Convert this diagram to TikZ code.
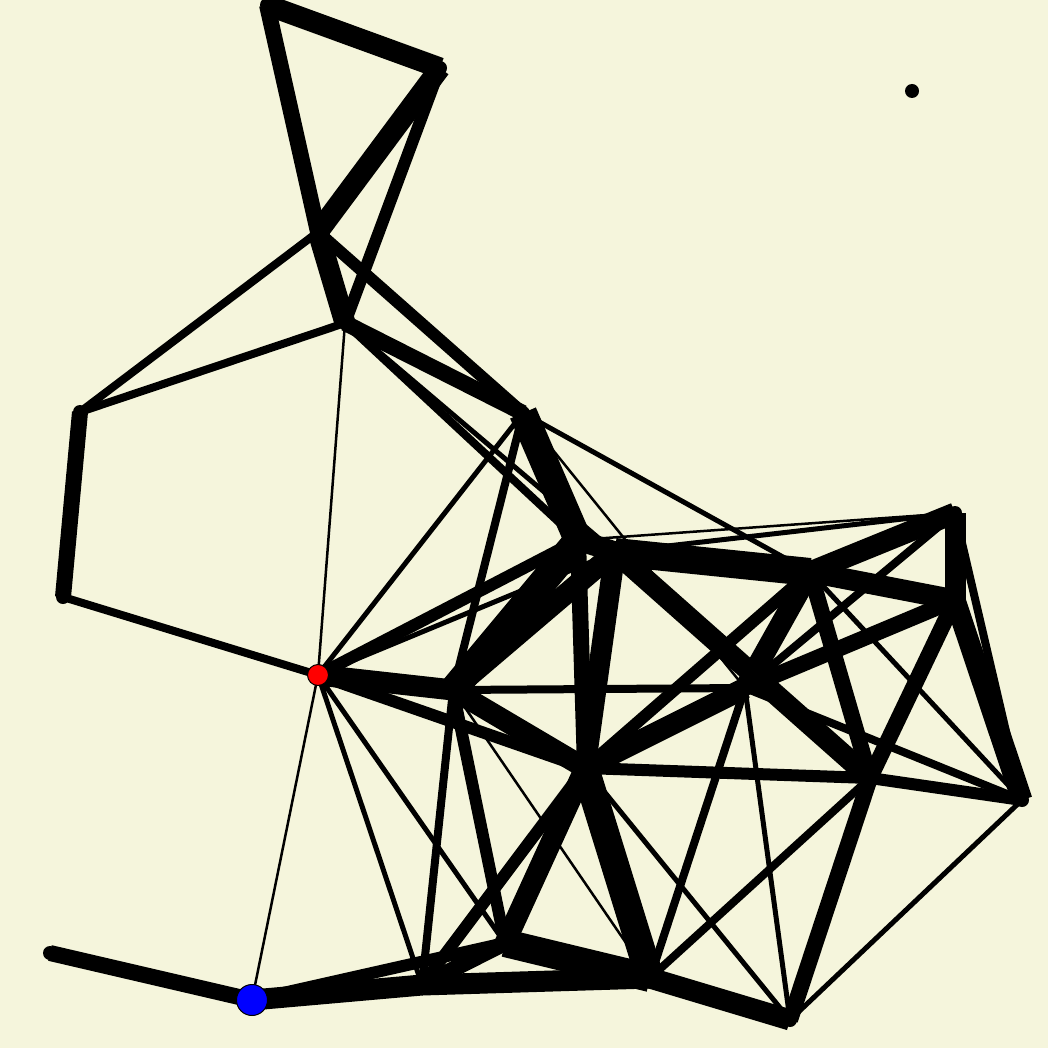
\documentclass[tikz,border=0pt]{standalone}
\usepackage{tikz}
\usetikzlibrary{positioning}
\definecolor{paper}{RGB}{245,245,220}
\pgfdeclarelayer{paperlayer}
\pgfdeclarelayer{edgelayer}
\pgfsetlayers{paperlayer,edgelayer,main}
\tikzset{
    vtx/.style={circle, fill=black, inner sep=0pt, minimum size=14pt},
    vtx_red/.style={circle, draw=black, fill=red, line width=1pt, inner sep=0pt, minimum size=21pt},
    vtx_blue/.style={circle, draw=black, fill=blue, line width=1pt, inner sep=0pt, minimum size=31pt},
    e_hair/.style={draw=black, line width=2.5pt},
    e_thin/.style={draw=black, line width=5pt},
    e_light/.style={draw=black, line width=8pt},
    e_mid/.style={draw=black, line width=12pt},
    e_bold/.style={draw=black, line width=16pt},
    e_heavy/.style={draw=black, line width=21pt},
    e_huge/.style={draw=black, line width=28pt}
}
\begin{document}
\begin{tikzpicture}[x=1pt, y=-1pt]
    \begin{pgfonlayer}{paperlayer}
        \fill[paper] (0,0) rectangle (1048,1048);
    \end{pgfonlayer}
    \useasboundingbox (0,0) rectangle (1048,1048);

    % Upper part
    \node[vtx] (a) at (267, 5) {};
    \node[vtx] (b) at (440, 68) {};
    \node[vtx] (c) at (318, 232) {};
    \node[vtx] (d) at (345, 323) {};
    \node[vtx] (e) at (80, 412) {};
    \node[vtx] (f) at (63, 597) {};
    \node[vtx] (g) at (523, 413) {};
    \node[vtx] (lone) at (912, 91) {};

    % Middle part
    \node[vtx_red] (hub) at (318, 675) {};
    \node[vtx] (h) at (578, 540) {};
    \node[vtx] (h2) at (615, 552) {};
    \node[vtx] (i) at (955, 513) {};
    \node[vtx] (j) at (810, 572) {};
    \node[vtx] (k) at (955, 600) {};
    \node[vtx] (l) at (745, 688) {};
    \node[vtx] (m) at (453, 690) {};
    \node[vtx] (n) at (585, 768) {};
    \node[vtx] (o) at (870, 778) {};
    \node[vtx] (p) at (1022, 800) {};

    % Lower part
    \node[vtx] (q) at (505, 943) {};
    \node[vtx] (s) at (422, 985) {};
    \node[vtx] (t) at (650, 978) {};
    \node[vtx] (u) at (790, 1020) {};
    \node[vtx] (v) at (50, 953) {};
    \node[vtx_blue] (sink) at (252, 1000) {};

    \begin{pgfonlayer}{edgelayer}
    % Upper edges
    \draw[e_heavy] (a.center) -- (b.center);
    \draw[e_bold] (a.center) -- (c.center);
    \draw[e_heavy] (b.center) -- (c.center);
    \draw[e_mid] (b.center) -- (d.center);
    \draw[e_heavy] (c.center) -- (d.center);
    \draw[e_light] (c.center) -- (e.center);
    \draw[e_mid] (c.center) -- (g.center);
    \draw[e_light] (d.center) -- (e.center);
    \draw[e_bold] (d.center) -- (g.center);
    \draw[e_hair] (d.center) -- (hub.center);
    \draw[e_light] (d.center) -- (h.center);
    \draw[e_thin] (d.center) -- (h2.center);
    \draw[e_bold] (e.center) -- (f.center);
    \draw[e_light] (f.center) -- (hub.center);
    \draw[e_huge] (g.center) -- (h.center);
    \draw[e_thin] (g.center) -- (j.center);
    \draw[e_light] (g.center) -- (m.center);
    \draw[e_thin] (g.center) -- (hub.center);
    \draw[e_hair] (g.center) -- (l.center);

    % Middle edges
    \draw[e_mid] (hub.center) -- (h.center);
    \draw[e_thin] (hub.center) -- (h2.center);
    \draw[e_heavy] (hub.center) -- (m.center);
    \draw[e_mid] (hub.center) -- (n.center);
    \draw[e_thin] (hub.center) -- (s.center);
    \draw[e_thin] (hub.center) -- (q.center);
    \draw[e_hair] (hub.center) -- (sink.center);
    \draw[e_huge] (m.center) -- (h.center);
    \draw[e_heavy] (m.center) -- (h2.center);
    \draw[e_light] (m.center) -- (l.center);
    \draw[e_heavy] (m.center) -- (n.center);
    \draw[e_mid] (m.center) -- (q.center);
    \draw[e_light] (m.center) -- (s.center);
    \draw[e_hair] (m.center) -- (t.center);
    \draw[e_heavy] (h.center) -- (h2.center);
    \draw[e_bold] (h.center) -- (n.center);
    \draw[e_heavy] (h2.center) -- (n.center);
    \draw[e_huge] (h2.center) -- (j.center);
    \draw[e_hair] (h.center) -- (i.center);
    \draw[e_thin] (h2.center) -- (i.center);
    \draw[e_heavy] (h2.center) -- (o.center);
    \draw[e_heavy] (j.center) -- (i.center);
    \draw[e_heavy] (j.center) -- (k.center);
    \draw[e_heavy] (i.center) -- (k.center);
    \draw[e_light] (i.center) -- (p.center);
    \draw[e_light] (l.center) -- (i.center);
    \draw[e_heavy] (l.center) -- (j.center);
    \draw[e_bold] (l.center) -- (k.center);
    \draw[e_heavy] (n.center) -- (l.center);
    \draw[e_mid] (n.center) -- (j.center);
    \draw[e_bold] (k.center) -- (o.center);
    \draw[e_heavy] (k.center) -- (p.center);
    \draw[e_bold] (j.center) -- (o.center);
    \draw[e_thin] (j.center) -- (p.center);
    \draw[e_light] (l.center) -- (p.center);
    \draw[e_mid] (o.center) -- (p.center);
    \draw[e_mid] (n.center) -- (o.center);

    % Lower edges
    \draw[e_light] (l.center) -- (t.center);
    \draw[e_thin] (l.center) -- (u.center);
    \draw[e_light] (o.center) -- (t.center);
    \draw[e_bold] (o.center) -- (u.center);
    \draw[e_heavy] (n.center) -- (q.center);
    \draw[e_huge] (n.center) -- (t.center);
    \draw[e_mid] (n.center) -- (s.center);
    \draw[e_thin] (n.center) -- (u.center);
    \draw[e_bold] (v.center) -- (sink.center);
    \draw[e_heavy] (sink.center) -- (s.center);
    \draw[e_mid] (sink.center) -- (q.center);
    \draw[e_heavy] (s.center) -- (t.center);
    \draw[e_bold] (s.center) -- (q.center);
    \draw[e_huge] (q.center) -- (t.center);
    \draw[e_heavy] (t.center) -- (u.center);
    \draw[e_thin] (u.center) -- (p.center);
    \end{pgfonlayer}
\end{tikzpicture}
\end{document}
